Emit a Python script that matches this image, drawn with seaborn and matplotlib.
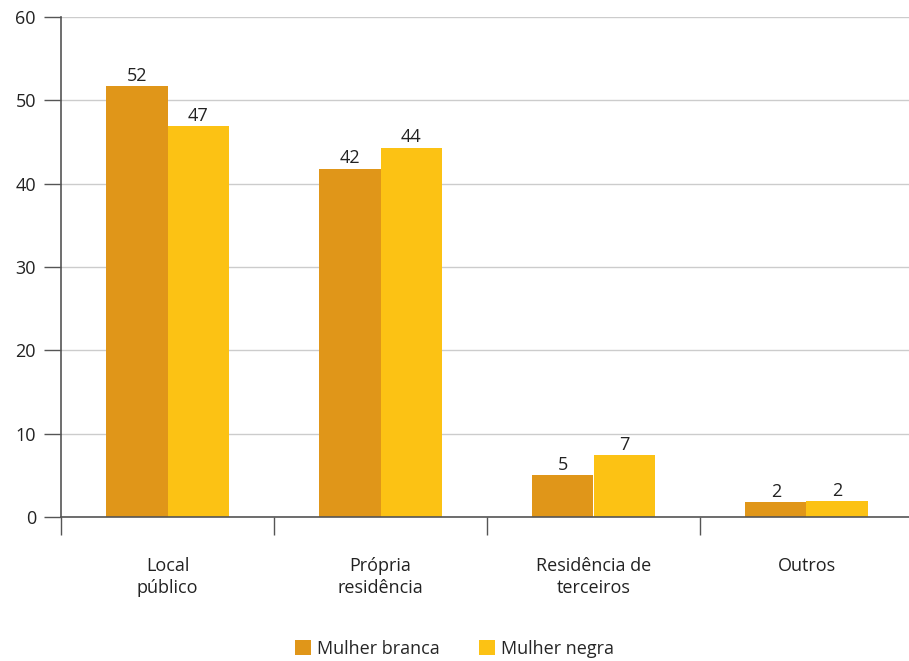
import pandas as pd
import matplotlib.pyplot as plt
import seaborn as sns

# Data
locais = ['Local\npúblico', 'Própria\nresidência', 'Residência de\nterceiros', 'Outros']
mulher_branca = [51.7, 41.8, 5.0, 1.8]
mulher_negra = [46.9, 44.3, 7.4, 1.9]
grupos = ['Mulher branca', 'Mulher negra']
cores = ['#E09619', '#FCC214']

df = pd.DataFrame({
    'Local': locais * 2,
    'Valor': mulher_branca + mulher_negra,
    'Grupo': [grupos[0]] * len(locais) + [grupos[1]] * len(locais),
})

sns.set_style('white')
plt.rcParams['font.family'] = ['Open Sans', 'DejaVu Sans']

fig = plt.figure(figsize=(9.09, 6.61), dpi=100)
ax = fig.add_axes([61 / 909, 1 - 517 / 661, 852 / 909, 500 / 661])

sns.barplot(data=df, x='Local', y='Valor', hue='Grupo', palette=cores,
            width=0.573, gap=0, saturation=1, edgecolor='none', ax=ax, legend=True)

# value labels on top of bars
for c in ax.containers:
    ax.bar_label(c, fmt='%.0f', padding=1, fontsize=13, color='#222222')

# y axis
ax.set_ylim(0, 60)
ax.set_yticks(range(0, 61, 10))
ax.yaxis.grid(True, color='#cccccc', linewidth=1)
ax.set_axisbelow(True)
ax.tick_params(axis='y', length=12, width=1, color='#555555', labelsize=13,
               labelcolor='#222222', pad=6, left=True)

# x axis: boundary ticks, labels centered between them
ax.set_xlim(-0.5, 3.5)
ax.set_xticks([-0.5, 0.5, 1.5, 2.5, 3.5])
ax.set_xticklabels([])
ax.set_xticks(range(len(locais)), minor=True)
ax.set_xticklabels(locais, minor=True, linespacing=1.25)
ax.tick_params(axis='x', which='major', length=13, width=1, color='#555555', bottom=True)
ax.tick_params(axis='x', which='minor', length=0, pad=29, labelsize=13, labelcolor='#222222')
ax.set_xlabel('')
ax.set_ylabel('')

sns.despine(ax=ax)
for s in ['left', 'bottom']:
    ax.spines[s].set_color('#555555')
    ax.spines[s].set_linewidth(1.2)

# legend at the bottom
handles, labels = ax.get_legend_handles_labels()
ax.get_legend().remove()
fig.legend(handles, labels, loc='center', bbox_to_anchor=(0.5, 1 - 649 / 661), ncol=2,
           frameon=False, fontsize=13, handlelength=0.9, handleheight=0.9,
           handletextpad=0.3, columnspacing=2.2)

fig.savefig('out.png', dpi=100)
